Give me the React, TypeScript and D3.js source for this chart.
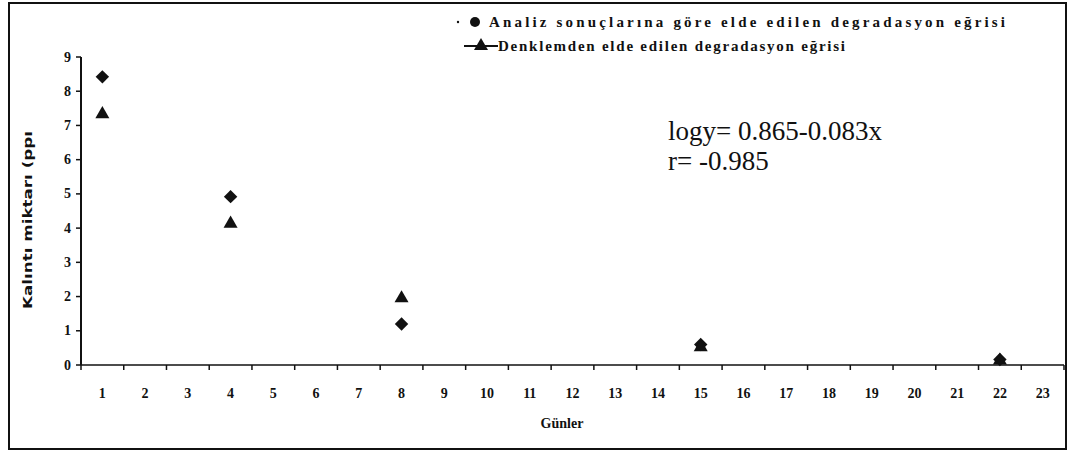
import React, { useEffect, useRef } from 'react'
import * as d3 from 'd3'

const dayLabels = ['1','2','3','4','5','6','7','8','9','10','11','12','13','14','15','16','17','18','19','20','21','22','23']
const yTicks = [0, 1, 2, 3, 4, 5, 6, 7, 8, 9]
const sampleDays = ['1', '4', '8', '15', '22']
const measured = [8.42, 4.92, 1.2, 0.6, 0.16]
const fitted = [7.33, 4.13, 1.95, 0.52, 0.13]
const legendMeasured = 'Analiz sonuçlarına göre elde edilen degradasyon eğrisi'
const legendFitted = 'Denklemden elde edilen degradasyon eğrisi'
const equation = ['logy= 0.865-0.083x', 'r= -0.985']

export default function App() {
  const ref = useRef<SVGSVGElement | null>(null)

  useEffect(() => {
    const el = ref.current
    if (!el) return
    const svg = d3.select(el)
    svg.selectAll('*').remove()
    const font = '"Liberation Serif", "Times New Roman", serif'
    const ink = '#111'

    // outer frame
    svg.append('rect').attr('x', 9).attr('y', 3).attr('width', 1057).attr('height', 446)
      .attr('fill', 'none').attr('stroke', ink).attr('stroke-width', 2)

    const x = d3.scaleBand<string>().domain(dayLabels).range([81, 1064]).paddingInner(0).paddingOuter(0)
    const y = d3.scaleLinear().domain([0, 9]).range([365, 57])
    const cx = (d: string) => x(d)! + x.bandwidth() / 2

    // x axis
    const gx = svg.append('g')
    gx.append('line').attr('x1', x.range()[0]).attr('x2', x.range()[1]).attr('y1', y(0)).attr('y2', y(0))
      .attr('stroke', ink).attr('stroke-width', 1.5)
    gx.append('line').attr('x1', 81).attr('x2', 81).attr('y1', y(0)).attr('y2', y(0) + 5)
      .attr('stroke', ink).attr('stroke-width', 1.5)
    dayLabels.forEach(d => {
      const x0 = x(d)! + x.bandwidth()
      gx.append('line').attr('x1', x0).attr('x2', x0).attr('y1', y(0)).attr('y2', y(0) + 5)
        .attr('stroke', ink).attr('stroke-width', 1.5)
      gx.append('text').attr('x', cx(d)).attr('y', 398)
        .attr('text-anchor', 'middle').attr('font-family', font).attr('font-weight', 'bold')
        .attr('font-size', 14).attr('fill', ink).text(d)
    })

    // y axis
    const gy = svg.append('g')
    gy.append('line').attr('x1', 81).attr('x2', 81).attr('y1', y(0)).attr('y2', y(9))
      .attr('stroke', ink).attr('stroke-width', 2)
    yTicks.forEach(t => {
      gy.append('line').attr('x1', 76).attr('x2', 81).attr('y1', y(t)).attr('y2', y(t))
        .attr('stroke', ink).attr('stroke-width', 1.5)
      gy.append('text').attr('x', 71).attr('y', y(t) + 4.5).attr('text-anchor', 'end')
        .attr('font-family', font).attr('font-weight', 'bold').attr('font-size', 14)
        .attr('fill', ink).text(t)
    })

    // axis titles
    svg.append('text').attr('transform', 'translate(32,220) rotate(-90)')
      .attr('text-anchor', 'middle').attr('font-family', '"DejaVu Sans", sans-serif')
      .attr('font-weight', 'bold').attr('font-size', 13).attr('fill', ink)
      .attr('textLength', 178).attr('lengthAdjust', 'spacingAndGlyphs')
      .text('Kalıntı miktarı (ppı')
    svg.append('text').attr('x', 562).attr('y', 428).attr('text-anchor', 'middle')
      .attr('font-family', font).attr('font-weight', 'bold').attr('font-size', 14)
      .attr('fill', ink).text('Günler')

    // markers
    const diamond = d3.symbol().type(d3.symbolDiamond2).size(115)
    const triangle = d3.symbol().type(d3.symbolTriangle).size(85)
    svg.append('g').selectAll('path').data(sampleDays.map((d, i) => ({ d, v: measured[i] })))
      .join('path').attr('d', diamond)
      .attr('transform', p => `translate(${cx(p.d)},${y(p.v)})`)
      .attr('fill', ink)
    svg.append('g').selectAll('path').data(sampleDays.map((d, i) => ({ d, v: fitted[i] })))
      .join('path').attr('d', triangle)
      .attr('transform', p => `translate(${cx(p.d)},${y(p.v)})`)
      .attr('fill', ink)

    // legend
    const lg = svg.append('g')
    lg.append('circle').attr('cx', 458).attr('cy', 22).attr('r', 1.2).attr('fill', ink)
    lg.append('circle').attr('cx', 475).attr('cy', 22).attr('r', 5).attr('fill', ink)
    lg.append('text').attr('x', 489).attr('y', 27).attr('font-family', font).attr('font-weight', 'bold')
      .attr('font-size', 15).attr('fill', ink)
      .attr('textLength', 516).attr('lengthAdjust', 'spacing').text(legendMeasured)
    lg.append('line').attr('x1', 464).attr('x2', 498).attr('y1', 46).attr('y2', 46)
      .attr('stroke', ink).attr('stroke-width', 2)
    lg.append('path').attr('d', triangle).attr('transform', 'translate(481,46)').attr('fill', ink)
    lg.append('text').attr('x', 498).attr('y', 51).attr('font-family', font).attr('font-weight', 'bold')
      .attr('font-size', 15).attr('fill', ink)
      .attr('textLength', 347).attr('lengthAdjust', 'spacing').text(legendFitted)

    // regression text
    equation.forEach((t, i) => {
      svg.append('text').attr('x', 668).attr('y', 140 + i * 30).attr('font-family', font)
        .attr('font-size', 27).attr('fill', ink).text(t)
    })
  }, [])

  return (
    <svg ref={ref} width={1070} height={454}
      style={{ position: 'absolute', left: 0, top: 0, display: 'block', background: 'white' }} />
  )
}
